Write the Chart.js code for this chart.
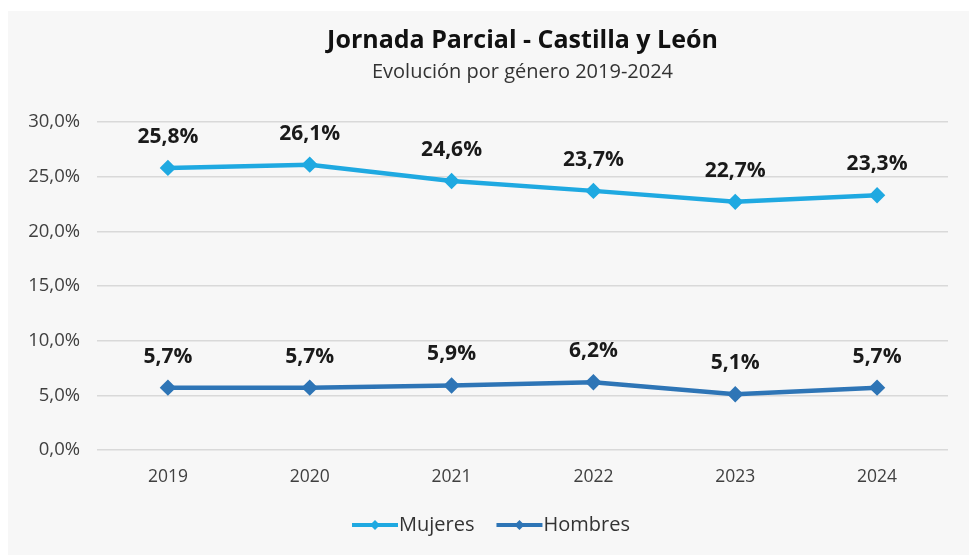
<!DOCTYPE html>
<html>
<head>
<meta charset="utf-8">
<script src="https://cdn.jsdelivr.net/npm/chart.js@4.4.1/dist/chart.umd.min.js"></script>
<style>
  html, body { margin:0; padding:0; background:#ffffff; }
  #wrap { position:relative; width:969px; height:555px; }
</style>
</head>
<body>
<div id="wrap"><canvas id="c" width="969" height="555"></canvas></div>
<script>
const years = ['2019','2020','2021','2022','2023','2024'];
const mujeres = [25.8, 26.1, 24.6, 23.7, 22.7, 23.3];
const hombres = [5.7, 5.7, 5.9, 6.2, 5.1, 5.7];
const seriesNames = ['Mujeres', 'Hombres'];
const titleText = 'Jornada Parcial - Castilla y León';
const subtitleText = 'Evolución por género 2019-2024';

const FONT = '"Open Sans", "Noto Sans", sans-serif';
const fmt = v => v.toFixed(1).replace('.', ',') + '%';

const bgPlugin = {
  id: 'bg',
  beforeDraw(chart) {
    const ctx = chart.ctx;
    ctx.save();
    ctx.fillStyle = '#f7f7f7';
    ctx.fillRect(8, 11, chart.width - 8, chart.height - 11);
    ctx.restore();
  }
};

const decorPlugin = {
  id: 'decor',
  afterDatasetsDraw(chart) {
    const ctx = chart.ctx;
    const ca = chart.chartArea;
    ctx.save();
    const cx = (ca.left + ca.right) / 2;
    ctx.textAlign = 'center';
    ctx.textBaseline = 'middle';
    ctx.fillStyle = '#111111';
    ctx.font = 'bold 25px ' + FONT;
    ctx.fillText(titleText, cx, 41);
    ctx.fillStyle = '#333333';
    ctx.font = '20px ' + FONT;
    ctx.fillText(subtitleText, cx, 72);
    // data labels
    ctx.font = 'bold 21px ' + FONT;
    ctx.fillStyle = '#1a1a1a';
    chart.data.datasets.forEach((ds, i) => {
      const meta = chart.getDatasetMeta(i);
      meta.data.forEach((pt, j) => {
        ctx.fillText(fmt(ds.data[j]), pt.x, pt.y - 31);
      });
    });
    // legend
    ctx.font = '20px ' + FONT;
    ctx.textAlign = 'left';
    const ly = 525;
    let x = 352;
    chart.data.datasets.forEach((ds) => {
      ctx.strokeStyle = ds.borderColor;
      ctx.lineWidth = 4;
      ctx.beginPath();
      ctx.moveTo(x, ly);
      ctx.lineTo(x + 46, ly);
      ctx.stroke();
      ctx.fillStyle = ds.borderColor;
      ctx.beginPath();
      const mx = x + 23, r = 5;
      ctx.moveTo(mx, ly - r); ctx.lineTo(mx + r, ly); ctx.lineTo(mx, ly + r); ctx.lineTo(mx - r, ly);
      ctx.closePath(); ctx.fill();
      ctx.fillStyle = '#333333';
      ctx.fillText(ds.label, x + 47, ly);
      x += 47 + ctx.measureText(ds.label).width + 22;
    });
    ctx.restore();
  }
};

new Chart(document.getElementById('c'), {
  type: 'line',
  data: {
    labels: years,
    datasets: [
      { label: seriesNames[0], data: mujeres, borderColor: '#1fa9e1', backgroundColor: '#1fa9e1',
        borderWidth: 4.5, pointStyle: 'rectRot', pointRadius: 5, pointHoverRadius: 5, tension: 0 },
      { label: seriesNames[1], data: hombres, borderColor: '#2e75b6', backgroundColor: '#2e75b6',
        borderWidth: 4.5, pointStyle: 'rectRot', pointRadius: 5, pointHoverRadius: 5, tension: 0 }
    ]
  },
  options: {
    responsive: false,
    animation: false,
    events: [],
    layout: { padding: { top: 122, right: 21, bottom: 0, left: 0 } },
    plugins: { legend: { display: false }, title: { display: false }, tooltip: { enabled: false } },
    scales: {
      x: {
        offset: true,
        grid: { display: false, drawTicks: false },
        border: { display: false },
        ticks: { color: '#404040', font: { family: FONT, size: 17.5 }, padding: 17 },
        afterFit(s) { s.height = 105; }
      },
      y: {
        min: 0, max: 30,
        grid: { color: '#d9d9d9', lineWidth: 1.5, drawTicks: false },
        border: { display: false },
        ticks: { stepSize: 5, color: '#404040', font: { family: FONT, size: 18.5 }, padding: 17,
          callback: v => fmt(v) },
        afterFit(s) { s.width = 97; }
      }
    }
  },
  plugins: [bgPlugin, decorPlugin]
});
</script>
</body>
</html>
